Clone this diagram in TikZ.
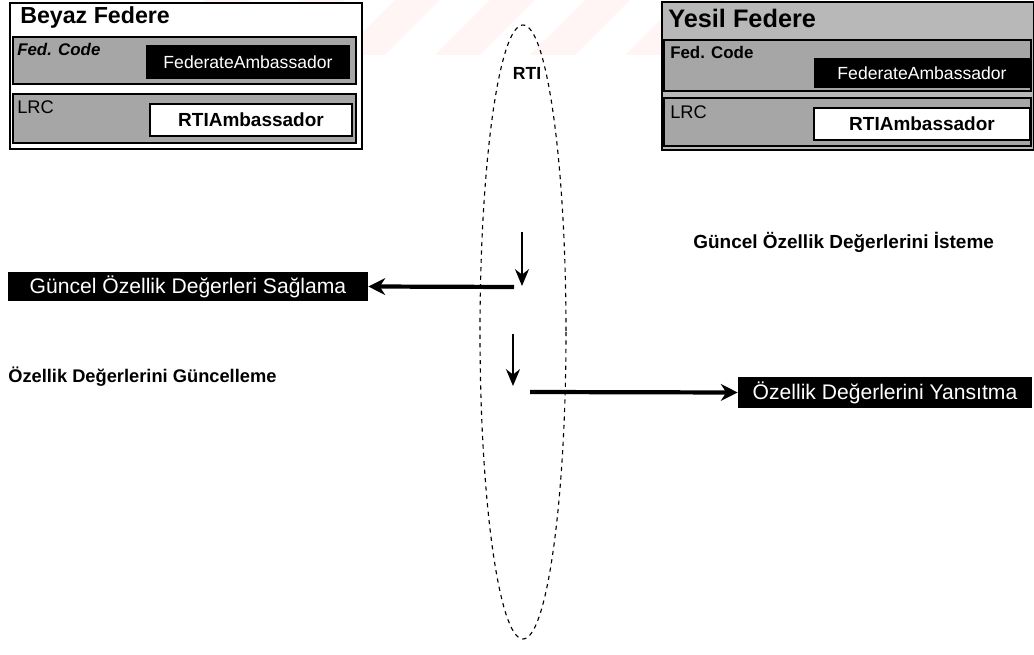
\documentclass[tikz,border=0pt]{standalone}
\usepackage{fontspec}
\setmainfont{Liberation Sans}
\usetikzlibrary{arrows.meta}

\tikzset{
  fedtitle/.style={font=\fontsize{16.5}{18}\selectfont\bfseries, inner sep=0pt},
  rowbox/.style={draw, line width=0.8pt, fill=black!35},
  blackbox/.style={fill=black, text=white, inner sep=0pt, font=\fontsize{12.5}{14}\selectfont},
  whitebox/.style={draw, line width=1.4pt, fill=white, inner sep=0pt, font=\fontsize{13.5}{14}\selectfont\bfseries},
  rowlabel/.style={anchor=west, inner sep=0pt, font=\fontsize{12}{13}\selectfont\bfseries},
  msgbox/.style={fill=black, text=white, inner sep=0pt, font=\fontsize{15}{16}\selectfont},
  msgtext/.style={anchor=west, inner sep=0pt, font=\fontsize{13}{15}\selectfont\bfseries},
  thinarrow/.style={line width=1.2pt, -{Stealth[length=12pt, width=10pt]}},
  thickarrow/.style={line width=3pt, -{Stealth[length=12pt, width=12pt]}}
}

\begin{document}
\begin{tikzpicture}[x=0.025cm, y=-0.025cm]
      \useasboundingbox (0,0) rectangle (1034,655);

      % faint stripes at the top
      \foreach \s in {0,...,5}
        \fill[red!4] (150+95*\s,55) -- (195+95*\s,55) -- (250+95*\s,0) -- (205+95*\s,0) -- cycle;

      % Beyaz Federe
      \draw[line width=0.8pt, fill=white] (10,3) rectangle (362,149);
      \node[fedtitle, anchor=west] (beyaz) at (20,18) {Beyaz Federe};
      \draw[rowbox] (13,37) rectangle (356,84);
      \node[rowlabel, font=\fontsize{12}{13}\selectfont\bfseries\itshape] (bfed) at (17,49) {Fed. Code};
      \node[blackbox, minimum width=5.1cm, minimum height=0.85cm] (bamb) at (248,62) {FederateAmbassador};
      \draw[rowbox] (13,94) rectangle (356,143);
      \node[rowlabel, font=\fontsize{13}{14}\selectfont] (blrc) at (17,107) {LRC};
      \node[whitebox, minimum width=5.05cm, minimum height=0.8cm] (brti) at (251,120) {RTIAmbassador};

      % Yesil Federe
      \draw[line width=0.8pt, fill=black!28] (662,2) rectangle (1034,150);
      \node[fedtitle, font=\fontsize{18}{19}\selectfont\bfseries, anchor=west] (yesil) at (668,18) {Yesil Federe};
      \draw[rowbox] (664,40) rectangle (1031,91);
      \node[rowlabel] (yfed) at (670,52) {Fed. Code};
      \node[blackbox, minimum width=5.375cm, minimum height=0.75cm] (yamb) at (922,73) {FederateAmbassador};
      \draw[rowbox] (664,98) rectangle (1031,146);
      \node[rowlabel, font=\fontsize{13}{14}\selectfont] (ylrc) at (670,112) {LRC};
      \node[whitebox, minimum width=5.375cm, minimum height=0.8cm] (yrti) at (922,124) {RTIAmbassador};

      % RTI
      \draw[dashed, line width=0.8pt] (523,332) ellipse [x radius=43, y radius=307];
      \node[font=\fontsize{12.5}{13}\selectfont\bfseries] (rti) at (527,73) {RTI};

      % first exchange
      \node[msgtext, font=\fontsize{13.5}{15}\selectfont\bfseries] (istek) at (693,242) {Güncel Özellik Değerlerini İsteme};
      \coordinate (d1s) at (522,232);
      \coordinate (d1e) at (522,286);
      \draw[thinarrow] (d1s) -- (d1e);
      \node[msgbox, minimum width=9cm, minimum height=0.725cm] (sagla) at (188,286.5) {Güncel Özellik Değerleri Sağlama};
      \coordinate (a1s) at (514,287);
      \draw[thickarrow] (a1s) -- (sagla.east);

      % second exchange
      \node[msgtext] (guncel) at (8,377) {Özellik Değerlerini Güncelleme};
      \coordinate (d2s) at (513,334);
      \coordinate (d2e) at (513,386);
      \draw[thinarrow] (d2s) -- (d2e);
      \node[msgbox, minimum width=7.35cm, minimum height=0.775cm] (yansit) at (885,392.5) {Özellik Değerlerini Yansıtma};
      \coordinate (a2s) at (530,392);
      \draw[thickarrow] (a2s) -- (yansit.west);
    \end{tikzpicture}
\end{document}
